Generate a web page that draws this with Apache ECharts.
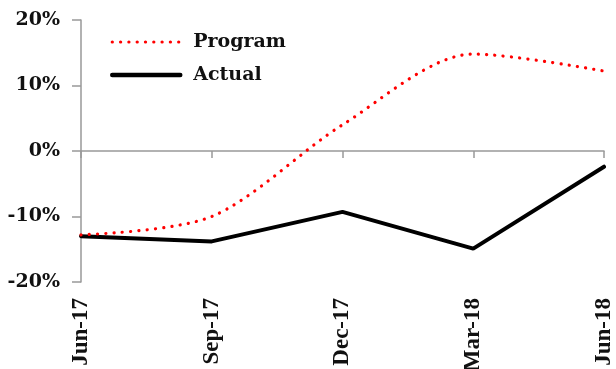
<!DOCTYPE html>
<html><head><meta charset="utf-8">
<script src="https://cdn.jsdelivr.net/npm/echarts@6/dist/echarts.min.js"></script>
<style>html,body{margin:0;padding:0;background:#fff}#c{width:616px;height:369px}</style>
</head><body><div id="c"></div>
<script>
const categories = ['Jun-17','Sep-17','Dec-17','Mar-18','Jun-18'];
const programValues = [-12.8, -10, 4, 14.8, 12.2];
const actualValues = [-13, -13.8, -9.3, -14.9, -2.4];
const yTicks = {min: -20, max: 20, interval: 10};

const chart = echarts.init(document.getElementById('c'));
const serif = '"Liberation Serif", "DejaVu Serif", serif';
const wideSerif = '"DejaVu Serif", "Liberation Serif", serif';
const dotted = [0.1, 8.2];
chart.setOption({
  animation: false,
  backgroundColor: '#fff',
  grid: {left: 81, right: 12, top: 20, bottom: 87, outerBoundsMode: 'none', containLabel: false},
  legend: {
    orient: 'vertical', left: 105, top: 26, itemWidth: 68, itemHeight: 22, itemGap: 11,
    itemStyle: {opacity: 0},
    textStyle: {fontFamily: wideSerif, fontWeight: 'bold', fontSize: 19, color: '#111', lineHeight: 22, padding: [0, 0, 0, 8]},
    data: [
      {name: 'Program', lineStyle: {color: '#ff0000', width: 3.2, type: dotted, cap: 'round'}},
      {name: 'Actual', lineStyle: {color: '#000', width: 4.5, cap: 'round'}}
    ]
  },
  xAxis: [{
    type: 'category', data: categories, boundaryGap: false,
    axisLine: {onZero: true, lineStyle: {color: '#999', width: 1.5}},
    axisTick: {show: true, length: 7, lineStyle: {color: '#999', width: 1.5}},
    axisLabel: {show: false}, splitLine: {show: false}
  }, {
    type: 'category', data: categories, boundaryGap: false, position: 'bottom',
    axisLine: {show: false, onZero: false}, axisTick: {show: false},
    axisLabel: {rotate: 90, margin: 16, fontFamily: serif, fontWeight: 'bold', fontSize: 23, color: '#111'}
  }],
  yAxis: {
    type: 'value', min: yTicks.min, max: yTicks.max, interval: yTicks.interval,
    axisLine: {show: true, lineStyle: {color: '#999', width: 1.5}},
    axisTick: {show: true, length: 9, lineStyle: {color: '#999', width: 1.5}},
    splitLine: {show: false},
    axisLabel: {formatter: '{value}%', margin: 21, fontFamily: wideSerif, fontWeight: 'bold', fontSize: 19, color: '#111'}
  },
  series: [{
    name: 'Program', type: 'line', data: programValues, smooth: 0.3, symbol: 'none',
    lineStyle: {color: '#ff0000', width: 3.2, type: dotted, cap: 'round'},
    itemStyle: {color: '#ff0000'}, z: 3
  }, {
    name: 'Actual', type: 'line', data: actualValues, symbol: 'none',
    lineStyle: {color: '#000', width: 4, cap: 'round'}, itemStyle: {color: '#000'}, z: 2
  }]
});
</script></body></html>
